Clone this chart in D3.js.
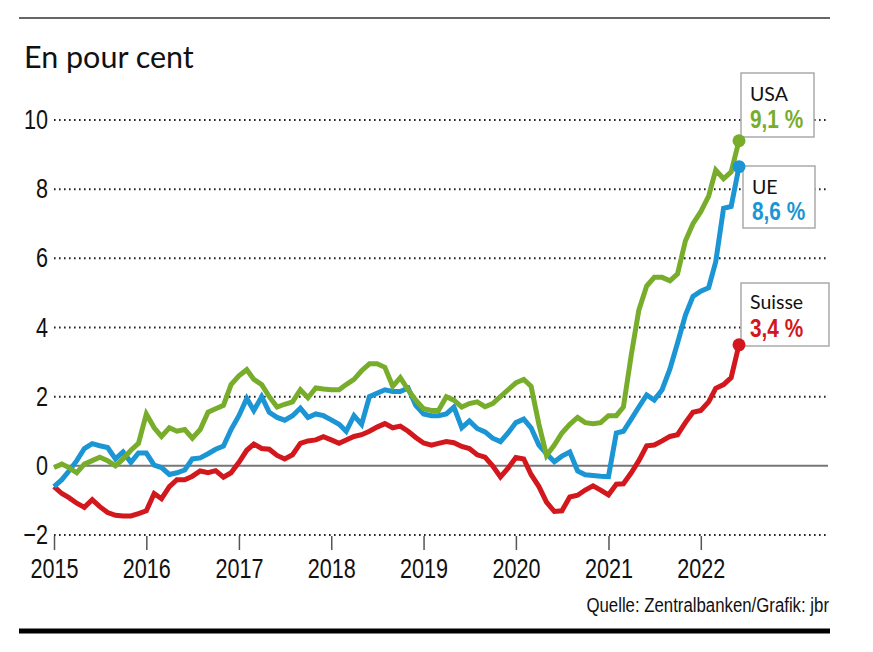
<!DOCTYPE html>
<html>
<head>
<meta charset="utf-8">
<script src="https://cdn.jsdelivr.net/npm/d3@7"></script>
<style>
  html, body { margin: 0; padding: 0; background: #fff; }
  svg { display: block; }
</style>
</head>
<body>
<svg id="chart" width="873" height="652"></svg>
<script>
// ---- Data (monthly, Jan 2015 – Jun 2022), inflation in % ----
const startMonth = new Date(2015, 0, 1);
const endMonth = new Date(2022, 5, 1);
const months = d3.timeMonth.range(startMonth, d3.timeMonth.offset(endMonth, 1));

const usa = [
  -0.05, 0.05, -0.05, -0.2, 0.05, 0.15, 0.25, 0.15, 0.0, 0.2, 0.45, 0.65,
  1.5, 1.1, 0.85, 1.1, 1.0, 1.05, 0.8, 1.05, 1.55, 1.65, 1.75, 2.35,
  2.6, 2.78, 2.5, 2.35, 2.0, 1.7, 1.78, 1.85, 2.2, 1.97, 2.25, 2.22,
  2.2, 2.2, 2.35, 2.5, 2.75, 2.95, 2.95, 2.85, 2.3, 2.55, 2.2, 1.9,
  1.65, 1.6, 1.6, 2.0, 1.9, 1.7, 1.8, 1.85, 1.71, 1.8, 2.0, 2.2,
  2.4, 2.5, 2.3, 1.2, 0.3, 0.6, 0.95, 1.2, 1.4, 1.25, 1.22, 1.25,
  1.45, 1.45, 1.7, 3.2, 4.5, 5.2, 5.45, 5.45, 5.35, 5.55, 6.5, 7.0,
  7.35, 7.8, 8.55, 8.3, 8.5, 9.4
];
const ue = [
  -0.6, -0.4, -0.15, 0.15, 0.5, 0.64, 0.58, 0.53, 0.2, 0.4, 0.1, 0.37,
  0.37, 0.02, -0.05, -0.25, -0.2, -0.12, 0.2, 0.23, 0.35, 0.48, 0.57, 1.05,
  1.45, 1.95, 1.6, 2.0, 1.55, 1.4, 1.32, 1.45, 1.67, 1.4, 1.5, 1.45,
  1.33, 1.2, 1.0, 1.45, 1.2, 2.0, 2.1, 2.2, 2.15, 2.15, 2.25, 1.75,
  1.5, 1.45, 1.45, 1.5, 1.7, 1.1, 1.3, 1.08, 0.98, 0.8, 0.7, 0.95,
  1.25, 1.35, 1.1, 0.6, 0.35, 0.12, 0.28, 0.4, -0.15, -0.26, -0.28, -0.3,
  -0.31, 0.95, 1.0, 1.35, 1.7, 2.05, 1.9, 2.2, 2.8, 3.55, 4.35, 4.9,
  5.05, 5.15, 5.9, 7.45, 7.5, 8.65
];
const suisse = [
  -0.6, -0.8, -0.92, -1.08, -1.2, -0.98, -1.18, -1.35, -1.43, -1.45, -1.45, -1.38,
  -1.3, -0.8, -0.95, -0.6, -0.4, -0.4, -0.3, -0.15, -0.2, -0.14, -0.33, -0.2,
  0.1, 0.45, 0.63, 0.5, 0.48, 0.3, 0.2, 0.32, 0.65, 0.72, 0.75, 0.84,
  0.75, 0.65, 0.75, 0.85, 0.9, 1.0, 1.12, 1.22, 1.1, 1.15, 1.0, 0.82,
  0.66, 0.6, 0.65, 0.7, 0.67, 0.56, 0.5, 0.32, 0.25, 0.0, -0.32, -0.07,
  0.24, 0.2, -0.25, -0.6, -1.05, -1.32, -1.3, -0.9, -0.85, -0.7, -0.58, -0.7,
  -0.84, -0.53, -0.52, -0.2, 0.15, 0.58, 0.6, 0.72, 0.85, 0.9, 1.25, 1.55,
  1.6, 1.85, 2.24, 2.35, 2.55, 3.5
];

const seriesNames = ["USA", "UE", "Suisse"];
const seriesLabels = ["9,1 %", "8,6 %", "3,4 %"];
const seriesColors = ["#77ad2b", "#1b95d3", "#d2171d"];
const seriesValues = [usa, ue, suisse];

const yTicks = [-2, 0, 2, 4, 6, 8, 10];
const xTickYears = [2015, 2016, 2017, 2018, 2019, 2020, 2021, 2022];
const titleText = "En pour cent";
const sourceText = "Quelle: Zentralbanken/Grafik: jbr";

// ---- Layout ----
const svg = d3.select("#chart");
const plotLeft = 54, plotRight = 739, gridRight = 828;
const x = d3.scaleTime().domain([startMonth, endMonth]).range([plotLeft, plotRight]);
const y = d3.scaleLinear().domain([-2, 10]).range([535, 120]);

const grot = "'Liberation Sans', Arial, sans-serif";
const humanist = "Lato, 'Open Sans', sans-serif";
const SX = 0.8; // horizontal condensing for grotesque labels

// top rule
svg.append("line").attr("x1", 19).attr("x2", 830).attr("y1", 18).attr("y2", 18)
  .attr("stroke", "#666").attr("stroke-width", 2);
// bottom rule
svg.append("line").attr("x1", 19).attr("x2", 830).attr("y1", 631).attr("y2", 631)
  .attr("stroke", "#000").attr("stroke-width", 5);

// title
svg.append("text").attr("x", 24).attr("y", 68).text(titleText)
  .attr("font-family", humanist).attr("font-size", 30.5).attr("fill", "#111");

// gridlines
svg.append("g").selectAll("line").data(yTicks).join("line")
  .attr("x1", plotLeft).attr("x2", gridRight)
  .attr("y1", d => y(d)).attr("y2", d => y(d))
  .attr("stroke", d => d === 0 ? "#777" : "#222")
  .attr("stroke-width", 2)
  .attr("stroke-dasharray", d => d === 0 ? null : "1.6,3.4");

// y axis labels
const yAxis = svg.append("g").attr("transform", `translate(${plotLeft},0)`)
  .call(d3.axisLeft(y).tickValues(yTicks).tickSize(0).tickPadding(6)
    .tickFormat(d => d < 0 ? "\u2212" + Math.abs(d) : String(d)));
yAxis.select(".domain").remove();
yAxis.selectAll("text").attr("font-family", grot).attr("font-size", 27).attr("fill", "#111")
  .attr("x", -6 / SX).attr("transform", `scale(${SX},1)`);

// x axis
const xTickDates = xTickYears.map(yr => new Date(yr, 0, 1));
const xAxis = svg.append("g").attr("transform", `translate(0,536)`)
  .call(d3.axisBottom(x).tickValues(xTickDates).tickSize(14).tickPadding(9)
    .tickFormat(d3.timeFormat("%Y")));
xAxis.select(".domain").remove();
xAxis.selectAll("line").attr("stroke", "#555").attr("stroke-width", 1.5);
xAxis.selectAll("text").attr("font-family", grot).attr("font-size", 27).attr("fill", "#111")
  .attr("transform", `scale(${SX},1)`);

// source
svg.append("text").attr("transform", `translate(829,612) scale(${SX},1)`)
  .attr("text-anchor", "end")
  .text(sourceText).attr("font-family", grot).attr("font-size", 21).attr("fill", "#111");

// lines
const line = d3.line().x((d, i) => x(months[i])).y(d => y(d));
const order = [2, 1, 0];
svg.append("g").selectAll("path").data(order).join("path")
  .attr("d", k => line(seriesValues[k]))
  .attr("fill", "none")
  .attr("stroke", k => seriesColors[k])
  .attr("stroke-width", 5)
  .attr("stroke-linejoin", "miter");

// label boxes
const boxes = [
  { x: 741, y: 73, w: 73, h: 64, tx: 750, t1: 101, t2: 128 },
  { x: 743, y: 166, w: 72, h: 62, tx: 752, t1: 194, t2: 220 },
  { x: 741, y: 283, w: 88, h: 63, tx: 750, t1: 309, t2: 337 }
];
const bg = svg.append("g").selectAll("g").data(boxes).join("g");
bg.append("rect").attr("x", b => b.x).attr("y", b => b.y).attr("width", b => b.w).attr("height", b => b.h)
  .attr("fill", "#fff").attr("stroke", "#aaa").attr("stroke-width", 1.5);
bg.append("text").attr("x", b => b.tx).attr("y", b => b.t1).text((b, i) => seriesNames[i])
  .attr("font-family", humanist).attr("font-size", 19.5).attr("fill", "#111");
bg.append("text")
  .attr("transform", b => `translate(${b.tx},${b.t2}) scale(${SX},1)`)
  .text((b, i) => seriesLabels[i])
  .attr("font-family", grot).attr("font-weight", "bold").attr("font-size", 26)
  .attr("fill", (b, i) => seriesColors[i]);

// end dots
svg.append("g").selectAll("circle").data([0, 1, 2]).join("circle")
  .attr("cx", k => x(months[months.length - 1]))
  .attr("cy", k => y(seriesValues[k][seriesValues[k].length - 1]))
  .attr("r", 6.5)
  .attr("fill", k => seriesColors[k]);
</script>
</body>
</html>
